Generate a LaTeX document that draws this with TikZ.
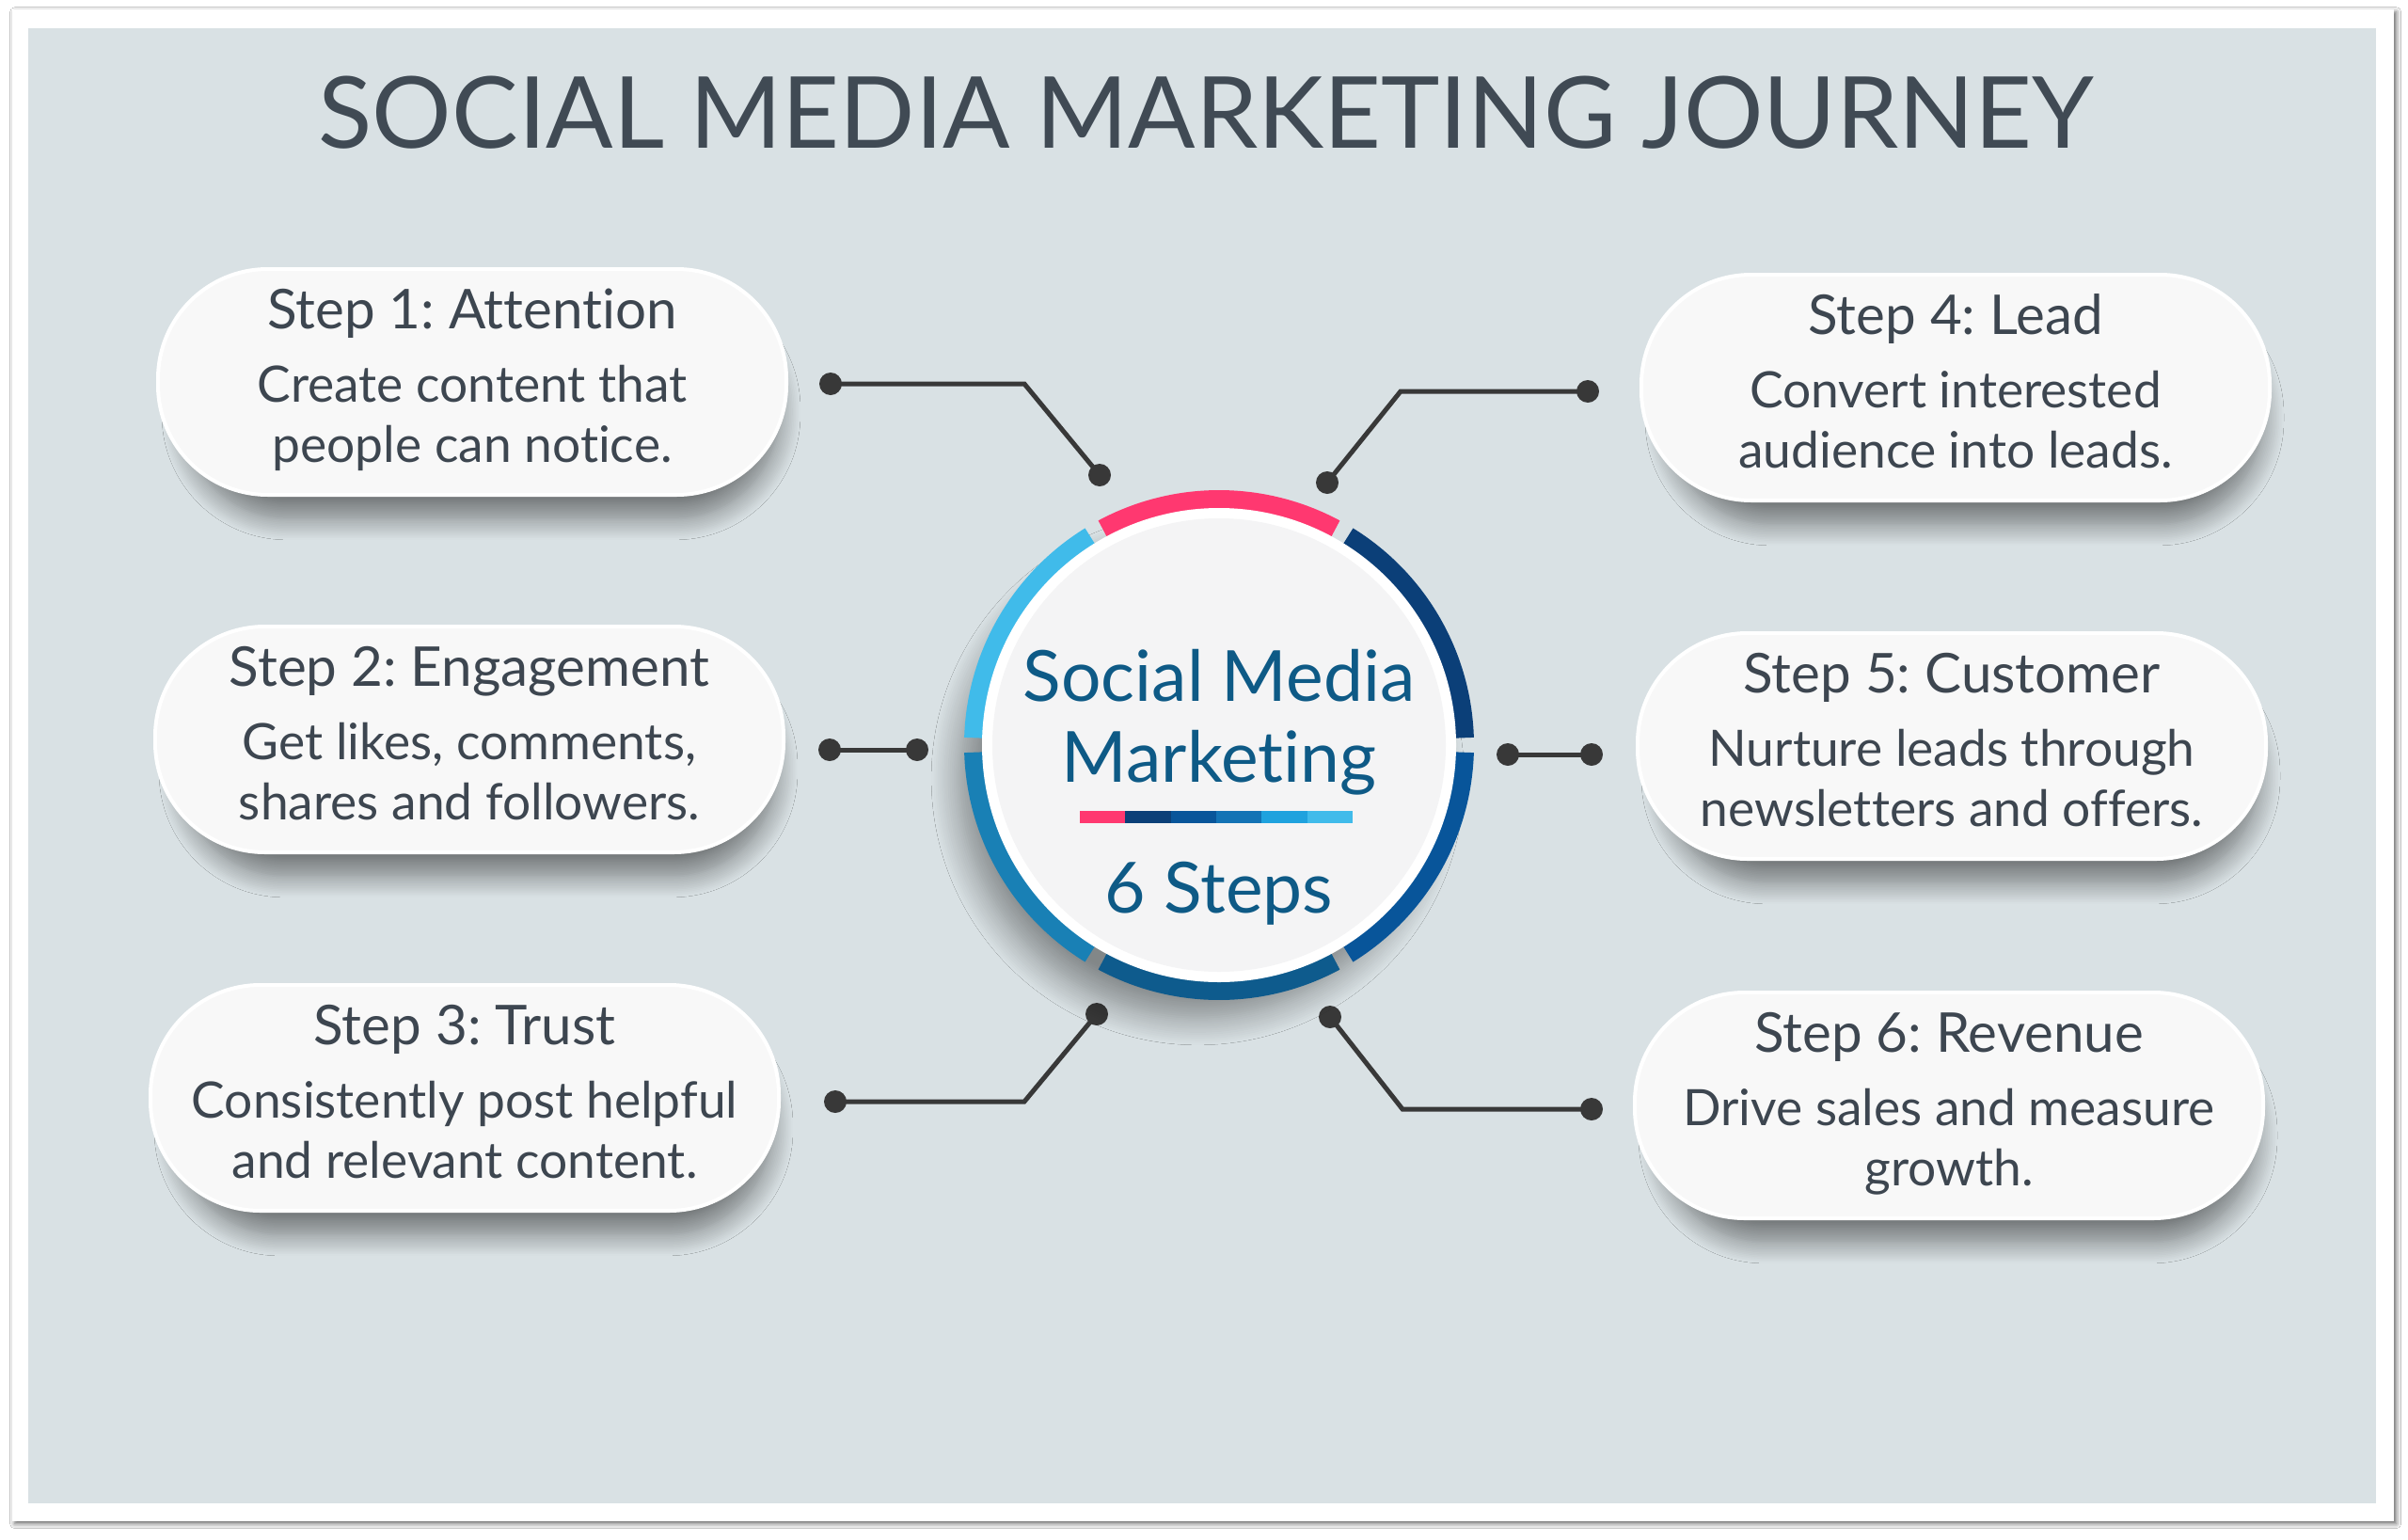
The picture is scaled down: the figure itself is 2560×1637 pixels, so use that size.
\documentclass[tikz,border=0pt]{standalone}
\usepackage{fontspec}
\setmainfont{Lato}[Ligatures=NoCommon]
\usetikzlibrary{shadows.blur}
\definecolor{panelc}{HTML}{D9E1E4}
\definecolor{titlec}{HTML}{404A54}
\definecolor{textc}{HTML}{3D4650}
\definecolor{boxc}{HTML}{F8F8F8}
\definecolor{connc}{HTML}{383838}
\definecolor{centc}{HTML}{0E5A86}
\definecolor{rpink}{HTML}{FF3870}
\definecolor{rnavy}{HTML}{0B3F78}
\definecolor{rdark}{HTML}{08559A}
\definecolor{rbot}{HTML}{0E5B8D}
\definecolor{rmid}{HTML}{1980B5}
\definecolor{rlight}{HTML}{40BBEA}
\definecolor{bmid}{HTML}{1373B5}
\definecolor{bblue}{HTML}{1FA2DE}
\definecolor{disk}{HTML}{F4F4F5}
\tikzset{
  stepbox/.style={draw=white, line width=1.2pt, fill=boxc, rounded corners=35pt,
    minimum width=200.4pt, minimum height=72pt, inner sep=0pt,
    blur shadow={shadow xshift=3pt, shadow yshift=-10pt, shadow scale=0.95,
      shadow blur radius=7pt, shadow blur steps=14, shadow opacity=45}},
  steptitle/.style={font=\fontsize{17.5}{20}\selectfont, text=textc, anchor=base, inner sep=0pt},
  stepdesc/.style={font=\fontsize{16}{19}\selectfont, text=textc, anchor=base, inner sep=0pt},
  dotn/.style={circle, fill=connc, minimum size=7.2pt, inner sep=0pt},
  conn/.style={draw=connc, line width=1.5pt},
  centtext/.style={font=\fontsize{22.5}{26}\selectfont, text=centc, anchor=base, inner sep=0pt},
  ringseg/.style={line width=6pt},
}
\newcommand\mystep[6]{%
  \node[stepbox] (#1) at (#2,#3) {};
  \node[steptitle] (#1t) at (#2,{#3-57}) {#4};
  \node[stepdesc] (#1a) at (#2,{#3+21}) {#5};
  \node[stepdesc] (#1b) at (#2,{#3+85}) {#6};
}
\begin{document}
\frenchspacing
\begin{tikzpicture}[x=0.3pt,y=-0.3pt]
\useasboundingbox (0,0) rectangle (2560,1637);
\fill[white] (0,0) rectangle (2560,1637);
% card and panel
\fill[white, blur shadow={shadow xshift=0.8pt, shadow yshift=-0.8pt, shadow blur radius=1.5pt, shadow opacity=60}] (13,10) rectangle (2545,1617);
\fill[panelc] (30,30) rectangle (2526,1598);
% title
\node[font=\fontsize{31.7}{36}\selectfont, text=titlec, inner sep=0pt] (title) at (1282,120) {SOCIAL MEDIA MARKETING JOURNEY};
% steps
\mystep{s1}{502}{406}{Step 1: Attention}{Create content that}{people can notice.}
\mystep{s2}{499}{786}{Step 2: Engagement}{Get likes, comments,}{shares and followers.}
\mystep{s3}{494}{1167}{Step 3: Trust}{Consistently post helpful}{and relevant content.}
\mystep{s4}{2079}{412}{Step 4: Lead}{Convert interested}{audience into leads.}
\mystep{s5}{2075}{793}{Step 5: Customer}{Nurture leads through}{newsletters and offers.}
\mystep{s6}{2072}{1175}{Step 6: Revenue}{Drive sales and measure}{growth.}
% connectors
\node[dotn] (c1a) at (883,408) {};
\coordinate (c1m) at (1089,408);
\node[dotn] (c1b) at (1169,505) {};
\draw[conn] (c1a.center) -- (c1m) -- (c1b.center);
\node[dotn] (c2a) at (882,797) {};
\node[dotn] (c2b) at (975,797) {};
\draw[conn] (c2a.center) -- (c2b.center);
\node[dotn] (c3a) at (888,1171) {};
\coordinate (c3m) at (1089,1171);
\node[dotn] (c3b) at (1166,1078) {};
\draw[conn] (c3a.center) -- (c3m) -- (c3b.center);
\node[dotn] (c4a) at (1688,416) {};
\coordinate (c4m) at (1489,416);
\node[dotn] (c4b) at (1411,513) {};
\draw[conn] (c4a.center) -- (c4m) -- (c4b.center);
\node[dotn] (c5a) at (1603,802) {};
\node[dotn] (c5b) at (1692,802) {};
\draw[conn] (c5a.center) -- (c5b.center);
\node[dotn] (c6a) at (1692,1179) {};
\coordinate (c6m) at (1491,1179);
\node[dotn] (c6b) at (1414,1081) {};
\draw[conn] (c6a.center) -- (c6m) -- (c6b.center);
% central circle
\begin{scope}[shift={(1296,792)}]
\begin{scope}[y=0.3pt]
\path[blur shadow={shadow xshift=-7pt, shadow yshift=-11pt, shadow scale=0.97, shadow blur radius=9pt, shadow blur steps=14, shadow opacity=40}] (0,0) circle[radius=262];
\draw[ringseg, rpink]  (61.7:261)  arc[start angle=61.7,  end angle=118.3, radius=261];
\draw[ringseg, rlight] (121.7:261) arc[start angle=121.7, end angle=178.3, radius=261];
\draw[ringseg, rmid]   (181.7:261) arc[start angle=181.7, end angle=238.3, radius=261];
\draw[ringseg, rbot]   (241.7:261) arc[start angle=241.7, end angle=298.3, radius=261];
\draw[ringseg, rdark]  (301.7:261) arc[start angle=301.7, end angle=358.3, radius=261];
\draw[ringseg, rnavy]  (1.7:261)   arc[start angle=1.7,   end angle=58.3,  radius=261];
\fill[white] (0,0) circle[radius=252];
\fill[disk] (0,0) circle[radius=241];
\end{scope}
\end{scope}
\node[centtext] (cm1) at (1296,745) {Social Media};
\node[centtext] (cm2) at (1296,831) {Marketing};
\node[centtext] (cm3) at (1296,970) {6 Steps};
% colour bar
\fill[rpink] (1148,862) rectangle (1196.3,875);
\fill[rnavy] (1196.3,862) rectangle (1244.6,875);
\fill[rdark] (1244.6,862) rectangle (1293,875);
\fill[bmid]  (1293,862) rectangle (1341.3,875);
\fill[bblue] (1341.3,862) rectangle (1389.6,875);
\fill[rlight] (1389.6,862) rectangle (1438,875);
\end{tikzpicture}
\end{document}
